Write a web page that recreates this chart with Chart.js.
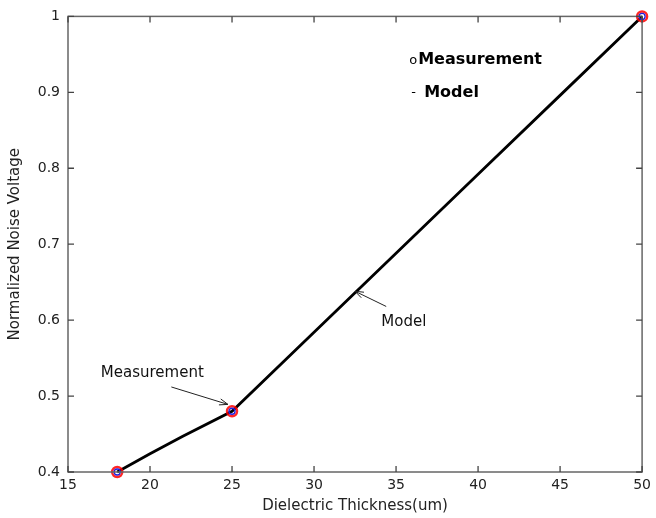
<!DOCTYPE html>
<html>
<head>
<meta charset="utf-8">
<script src="https://cdn.jsdelivr.net/npm/chart.js@4/dist/chart.umd.min.js"></script>
<style>
  html, body { margin: 0; padding: 0; background: #fff; }
  #wrap { width: 656px; height: 518px; }
</style>
</head>
<body>
<div id="wrap"><canvas id="grafico" width="656" height="518"></canvas></div>
<script>
// measured points
const thickness = [18, 25, 50];
const measured = [0.4, 0.48, 1.0];

// model curve
const modelX = [18, 20, 22, 25, 30, 35, 40, 45, 50];
const modelY = [0.4, 0.424, 0.447, 0.48, 0.584, 0.688, 0.792, 0.896, 1.0];

// axis ticks
const xTicks = [15, 20, 25, 30, 35, 40, 45, 50];
const yTicks = [0.4, 0.5, 0.6, 0.7, 0.8, 0.9, 1];

const FONT = "'DejaVu Sans', sans-serif";
const AXIS = "#666";

// text + arrows in data coords
const notas = [
  { text: "Measurement", x: 17.0, y: 0.530, from: [21.3, 0.512], to: [24.75, 0.489] },
  { text: "Model", x: 34.1, y: 0.597, from: [34.4, 0.618], to: [32.5, 0.638] },
];

const molduraPlugin = {
  id: "moldura",
  afterDraw(chart) {
    const { ctx, chartArea: a, scales } = chart;
    const sx = scales.x, sy = scales.y;
    ctx.save();
    ctx.strokeStyle = AXIS;
    ctx.lineWidth = 1.5;
    ctx.strokeRect(a.left, a.top, a.right - a.left, a.bottom - a.top);
    ctx.lineWidth = 1.3;
    ctx.strokeStyle = "#444";
    xTicks.forEach((v) => {
      const px = sx.getPixelForValue(v);
      ctx.beginPath();
      ctx.moveTo(px, a.bottom); ctx.lineTo(px, a.bottom - 6);
      ctx.moveTo(px, a.top); ctx.lineTo(px, a.top + 6);
      ctx.stroke();
    });
    yTicks.forEach((v) => {
      const py = sy.getPixelForValue(v);
      ctx.beginPath();
      ctx.moveTo(a.left, py); ctx.lineTo(a.left + 6, py);
      ctx.moveTo(a.right, py); ctx.lineTo(a.right - 6, py);
      ctx.stroke();
    });

    // anotações
    ctx.fillStyle = "#111";
    ctx.strokeStyle = "#222";
    ctx.font = "15px " + FONT;
    ctx.textBaseline = "middle";
    ctx.textAlign = "left";
    notas.forEach((n) => {
      ctx.fillText(n.text, sx.getPixelForValue(n.x), sy.getPixelForValue(n.y));
      const x1 = sx.getPixelForValue(n.from[0]), y1 = sy.getPixelForValue(n.from[1]);
      const x2 = sx.getPixelForValue(n.to[0]), y2 = sy.getPixelForValue(n.to[1]);
      ctx.lineWidth = 1;
      ctx.beginPath();
      ctx.moveTo(x1, y1); ctx.lineTo(x2, y2);
      ctx.stroke();
      const ang = Math.atan2(y2 - y1, x2 - x1);
      ctx.beginPath();
      ctx.moveTo(x2, y2);
      ctx.lineTo(x2 - 9 * Math.cos(ang - 0.35), y2 - 9 * Math.sin(ang - 0.35));
      ctx.moveTo(x2, y2);
      ctx.lineTo(x2 - 9 * Math.cos(ang + 0.35), y2 - 9 * Math.sin(ang + 0.35));
      ctx.stroke();
    });

    // legenda
    const lx = sx.getPixelForValue(35.8);
    const ly1 = sy.getPixelForValue(0.943);
    const ly2 = sy.getPixelForValue(0.899);
    ctx.fillStyle = "#000";
    ctx.font = "13px " + FONT;
    ctx.fillText("o", lx, ly1 + 1);
    ctx.fillText("-", lx + 2, ly2);
    ctx.font = "bold 16px " + FONT;
    ctx.fillText("Measurement", lx + 9, ly1);
    ctx.fillText("Model", lx + 15, ly2);
    ctx.restore();
  },
};

new Chart(document.getElementById("grafico").getContext("2d"), {
  type: "scatter",
  data: {
    datasets: [
      {
        label: "Model",
        data: modelX.map((x, i) => ({ x, y: modelY[i] })),
        showLine: true,
        borderColor: "#000",
        borderWidth: 2.8,
        pointRadius: 0,
        tension: 0,
        clip: false,
        order: 3,
      },
      {
        label: "Measurement (red)",
        data: thickness.map((x, i) => ({ x, y: measured[i] })),
        pointStyle: "circle",
        pointRadius: 5,
        borderColor: "rgba(255,0,0,0.85)",
        backgroundColor: "rgba(0,0,0,0)",
        pointBorderWidth: 2.5,
        clip: false,
        order: 2,
      },
      {
        label: "Measurement",
        data: thickness.map((x, i) => ({ x, y: measured[i] })),
        pointStyle: "circle",
        pointRadius: 3,
        borderColor: "#2020e0",
        backgroundColor: "rgba(0,0,0,0)",
        pointBorderWidth: 1.3,
        clip: false,
        order: 1,
      },
    ],
  },
  options: {
    responsive: false,
    animation: false,
    layout: { padding: { top: 16, right: 6, left: 0, bottom: 0 } },
    plugins: { legend: { display: false }, tooltip: { enabled: false } },
    scales: {
      x: {
        type: "linear",
        min: 15,
        max: 50,
        afterBuildTicks: (s) => { s.ticks = xTicks.map((v) => ({ value: v })); },
        afterFit: (s) => { s.height = 46; },
        grid: { display: false, drawTicks: false },
        border: { display: false },
        ticks: { color: "#222", font: { family: FONT, size: 14 }, padding: 5, callback: (v) => String(v) },
        title: {
          display: true,
          text: "Dielectric Thickness(um)",
          color: "#222",
          font: { family: FONT, size: 15 },
          padding: { top: 0, bottom: 3 },
        },
      },
      y: {
        type: "linear",
        min: 0.4,
        max: 1,
        afterBuildTicks: (s) => { s.ticks = yTicks.map((v) => ({ value: v })); },
        afterFit: (s) => { s.width = 68; },
        grid: { display: false, drawTicks: false },
        border: { display: false },
        ticks: { color: "#222", font: { family: FONT, size: 14 }, padding: 8, callback: (v) => String(v) },
        title: {
          display: true,
          text: "Normalized Noise Voltage",
          color: "#222",
          font: { family: FONT, size: 15 },
          padding: { top: 6, bottom: 0 },
        },
      },
    },
  },
  plugins: [molduraPlugin],
});
</script>
</body>
</html>
